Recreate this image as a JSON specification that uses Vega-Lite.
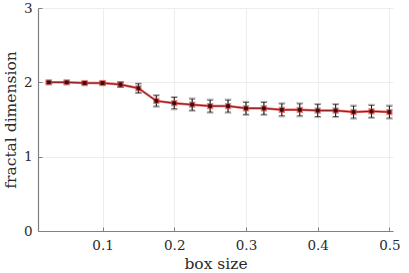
{
  "$schema": "https://vega.github.io/schema/vega-lite/v6.json",
  "autosize": {"type": "none"},
  "width": 355,
  "height": 223,
  "padding": {"left": 38, "top": 8, "right": 16, "bottom": 42},
  "config": {
    "view": {"stroke": null},
    "font": "DejaVu Serif",
    "axis": {
      "labelFont": "DejaVu Serif",
      "titleFont": "DejaVu Serif",
      "labelFontSize": 13.5,
      "titleFontSize": 15.5,
      "titleFontWeight": "normal",
      "labelColor": "#2a2a2a",
      "titleColor": "#2a2a2a",
      "domainColor": "#808080",
      "domainWidth": 1.2,
      "tickColor": "#808080",
      "tickSize": -4,
      "gridColor": "#e8e8e8",
      "gridWidth": 0.8
    }
  },
  "data": {
    "values": [
      {"x": 0.025, "y": 2.0, "err": 0.01, "err2": 0.02},
      {"x": 0.05, "y": 2.0, "err": 0.01, "err2": 0.02},
      {"x": 0.075, "y": 1.99, "err": 0.012, "err2": 0.022},
      {"x": 0.1, "y": 1.99, "err": 0.015, "err2": 0.025},
      {"x": 0.125, "y": 1.97, "err": 0.03, "err2": 0.04},
      {"x": 0.15, "y": 1.92, "err": 0.06, "err2": 0.07},
      {"x": 0.175, "y": 1.75, "err": 0.07, "err2": 0.085},
      {"x": 0.2, "y": 1.72, "err": 0.075, "err2": 0.09},
      {"x": 0.225, "y": 1.7, "err": 0.075, "err2": 0.09},
      {"x": 0.25, "y": 1.68, "err": 0.08, "err2": 0.095},
      {"x": 0.275, "y": 1.68, "err": 0.08, "err2": 0.095},
      {"x": 0.3, "y": 1.65, "err": 0.08, "err2": 0.095},
      {"x": 0.325, "y": 1.65, "err": 0.08, "err2": 0.095},
      {"x": 0.35, "y": 1.63, "err": 0.08, "err2": 0.095},
      {"x": 0.375, "y": 1.63, "err": 0.08, "err2": 0.095},
      {"x": 0.4, "y": 1.62, "err": 0.08, "err2": 0.095},
      {"x": 0.425, "y": 1.62, "err": 0.08, "err2": 0.095},
      {"x": 0.45, "y": 1.6, "err": 0.08, "err2": 0.095},
      {"x": 0.475, "y": 1.61, "err": 0.08, "err2": 0.095},
      {"x": 0.5, "y": 1.6, "err": 0.08, "err2": 0.095}
    ]
  },
  "encoding": {
    "x": {
      "field": "x", "type": "quantitative",
      "scale": {"domain": [0.01, 0.505], "nice": false, "zero": false},
      "axis": {"values": [0.1, 0.2, 0.3, 0.4, 0.5], "format": ".1f", "title": "box size", "labelPadding": 11, "titlePadding": 5}
    },
    "y": {
      "field": "y", "type": "quantitative",
      "scale": {"domain": [0, 3], "nice": false},
      "axis": {"values": [0, 1, 2, 3], "title": "fractal dimension", "labelPadding": 10, "titlePadding": 5}
    }
  },
  "layer": [
    {
      "mark": {"type": "errorbar", "ticks": {"size": 7, "color": "#999", "opacity": 0.7}, "color": "#999", "opacity": 0.7},
      "encoding": {"yError": {"field": "err2"}}
    },
    {
      "mark": {"type": "errorbar", "ticks": {"size": 6, "color": "#111"}, "color": "#111"},
      "encoding": {"yError": {"field": "err"}}
    },
    {
      "mark": {"type": "line", "color": "#e03030", "strokeWidth": 2.5, "opacity": 0.75}
    },
    {
      "mark": {"type": "line", "color": "#5a0000", "strokeWidth": 0.7}
    },
    {
      "mark": {"type": "point", "shape": "square", "filled": true, "color": "#e03030", "size": 40, "opacity": 0.6}
    },
    {
      "mark": {"type": "point", "shape": "square", "filled": true, "color": "#000", "size": 16}
    }
  ]
}
